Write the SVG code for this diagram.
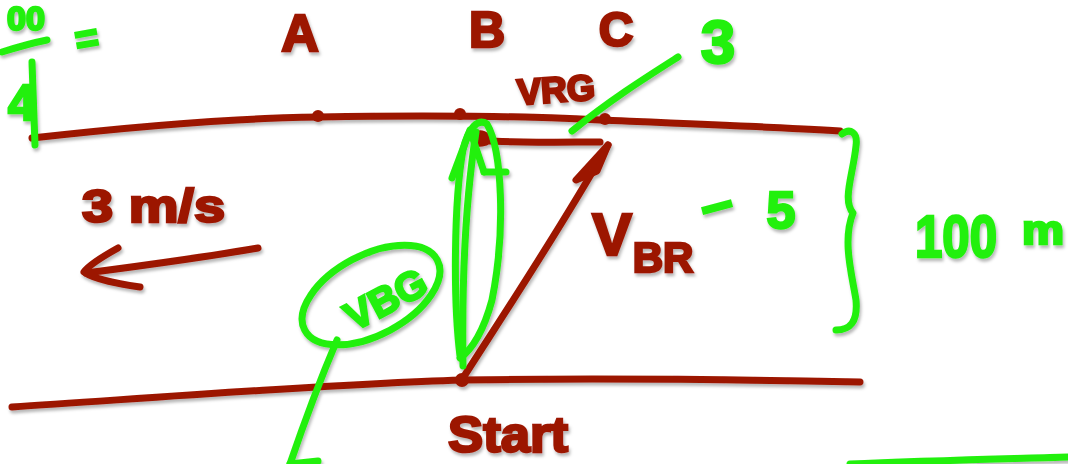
<svg xmlns="http://www.w3.org/2000/svg" width="1068" height="464" viewBox="0 0 1068 464">
<defs>
<filter id="sh" x="-10%" y="-10%" width="120%" height="130%">
<feDropShadow dx="1.5" dy="3" stdDeviation="1.8" flood-color="#000" flood-opacity="0.28"/>
</filter>
</defs>
<style>
.r{fill:none;stroke:#9c1600;stroke-width:7;stroke-linecap:round;stroke-linejoin:round}
.g{fill:none;stroke:#22f010;stroke-width:7;stroke-linecap:round;stroke-linejoin:round}
.rt{fill:#9c1600;stroke:#9c1600;stroke-width:2.5;font-family:"Liberation Sans",Arial,sans-serif;font-weight:bold}
.gt{fill:#22f010;stroke:#22f010;stroke-width:2.5;font-family:"Liberation Sans",Arial,sans-serif;font-weight:bold}
.dot{fill:#9c1600}
</style>
<rect width="1068" height="464" fill="#fff"/>
<g filter="url(#sh)">
<g id="river">
<path class="r" d="M32 138 C120 128 230 118 320 117 C420 115 520 116 600 120 C700 124 780 127 840 131"/>
<path class="r" d="M12 407 C150 398 330 384 462 380 C600 378 760 380 860 382"/>
<circle class="dot" cx="318" cy="116" r="6"/>
<circle class="dot" cx="460" cy="114" r="6"/>
<circle class="dot" cx="605" cy="119" r="6"/>
<circle class="dot" cx="462" cy="380" r="7"/>
</g>
<g id="labels-abc">
<text class="rt" x="300" y="51" font-size="52" text-anchor="middle">A</text>
<text class="rt" x="487" y="47" font-size="50" text-anchor="middle">B</text>
<text class="rt" x="616" y="46" font-size="48" text-anchor="middle">C</text>
</g>
<g id="vrg">
<path class="r" d="M474 136 C480 132 490 134 486 142 C470 146 478 138 490 141 C530 143 570 142 600 142"/>
<text class="rt" x="556" y="102" font-size="36" text-anchor="middle" transform="rotate(-4 556 90)">VRG</text>
</g>
<g id="vbr">
<path class="r" d="M463 378 C500 320 560 230 608 145"/>
<path class="r" d="M608 145 L576 180 L597 171 Z"/>
<text class="rt" x="612" y="255" font-size="60" text-anchor="middle">V</text>
<text class="rt" x="663" y="272" font-size="42" text-anchor="middle">BR</text>
<text class="gt" x="717" y="222" font-size="56" text-anchor="middle" textLength="32" lengthAdjust="spacingAndGlyphs" transform="rotate(-15 717 207)">–</text>
<text class="gt" x="781" y="228" font-size="52" text-anchor="middle">5</text>
</g>
<g id="current">
<text class="rt" x="82" y="222" font-size="46" textLength="143" lengthAdjust="spacingAndGlyphs">3 m/s</text>
<path class="r" d="M258 248 C200 258 140 266 86 273"/>
<path class="r" d="M118 248 C100 258 88 266 84 272 C95 280 120 284 140 287"/>
</g>
<g id="vbg-column">
<path class="g" d="M460 356 C453 300 454 200 463 150 C468 128 478 118 487 124 C502 150 506 230 492 300 C484 330 472 350 460 358"/>
<path class="g" d="M463 366 C462 300 464 210 476 132"/>
<path class="g" d="M452 178 L470 130 L484 172"/>
<path class="g" d="M484 172 L506 172"/>
</g>
<g id="vbg-label">
<ellipse class="g" cx="371" cy="295" rx="75" ry="40" transform="rotate(-28 371 295)"/>
<text class="gt" x="386" y="313" font-size="40" text-anchor="middle" transform="rotate(-28 386 300)">VBG</text>
<path class="g" d="M337 340 C320 380 305 420 290 464"/>
<path class="g" d="M290 464 L318 461"/>
</g>
<g id="green-notes">
<path class="g" d="M572 131 C610 100 645 78 678 57"/>
<text class="gt" x="718" y="63" font-size="62" text-anchor="middle">3</text>
<path class="g" d="M842 134 C850 128 858 132 856 146 C853 175 842 200 853 213 C842 240 852 275 856 300 C858 322 850 330 836 330"/>
<text class="gt" x="915" y="257" font-size="60" textLength="82" lengthAdjust="spacingAndGlyphs">100</text>
<text class="gt" x="1022" y="244" font-size="40" textLength="42" lengthAdjust="spacingAndGlyphs">m</text>
<path class="g" d="M850 464 C920 461 1000 459 1068 457"/>
</g>
<g id="fraction">
<text class="gt" x="26" y="30" font-size="34" text-anchor="middle">00</text>
<path class="g" d="M2 52 C18 47 32 43 47 40"/>
<text class="gt" x="22" y="120" font-size="50" text-anchor="middle">4</text>
<path class="g" d="M32 62 C33 90 34 120 35 145"/>
<text class="gt" x="87" y="52" font-size="40" text-anchor="middle" transform="rotate(-10 87 40)">=</text>
</g>
<g id="start">
<text class="rt" x="448" y="452" font-size="50" textLength="120" lengthAdjust="spacingAndGlyphs">Start</text>
</g>
</g>
</svg>
